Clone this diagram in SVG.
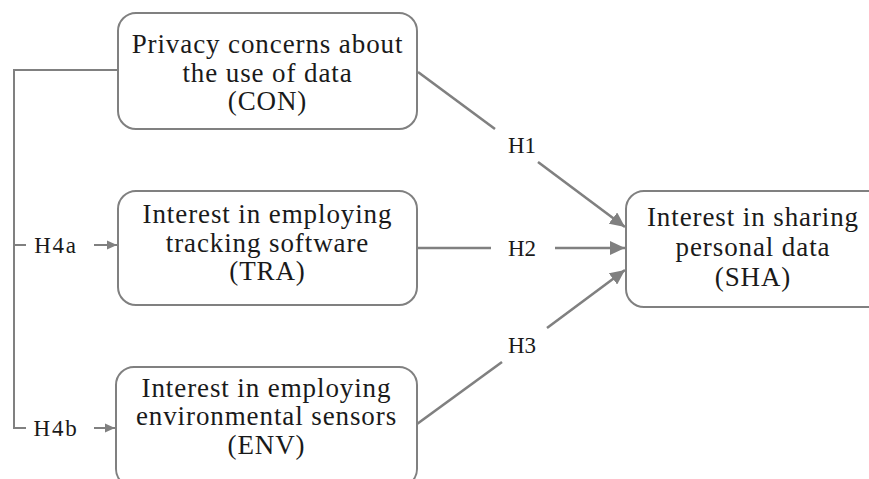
<svg xmlns="http://www.w3.org/2000/svg" width="869" height="479" viewBox="0 0 869 479">
<style>
.box{fill:#fff;stroke:#808080;stroke-width:2}
.t{font-family:"Liberation Serif","Times New Roman",serif;font-size:27px;letter-spacing:0.9px;fill:#1a1a1a;text-anchor:middle}
.l{font-family:"Liberation Serif","Times New Roman",serif;font-size:23px;fill:#1a1a1a;text-anchor:middle}
.w{letter-spacing:1.8px}
.c{fill:none;stroke:#808080;stroke-width:2.6}
.s{fill:none;stroke:#808080;stroke-width:2}
</style>
<defs>
<marker id="big" markerUnits="userSpaceOnUse" markerWidth="16" markerHeight="14" refX="15" refY="7" orient="auto"><path d="M0,0 L15,7 L0,14 Z" fill="#808080"/></marker>
<marker id="small" markerUnits="userSpaceOnUse" markerWidth="11" markerHeight="10" refX="10" refY="5" orient="auto"><path d="M0,0.5 L10,5 L0,9.5 Z" fill="#808080"/></marker>
</defs>
<rect width="869" height="479" fill="#fff"/>
<g id="connectors">
<polyline class="s" points="118,70 14,70 14,428 26,428"/>
<line class="s" x1="14" y1="245" x2="26" y2="245"/>
<line class="s" x1="94" y1="245" x2="117" y2="245" marker-end="url(#small)"/>
<line class="s" x1="94" y1="428" x2="115" y2="428" marker-end="url(#small)"/>
<line class="c" x1="418" y1="72" x2="495" y2="129"/>
<line class="c" x1="538" y1="162" x2="625" y2="227" marker-end="url(#big)"/>
<line class="c" x1="418" y1="248" x2="491" y2="248"/>
<line class="c" x1="555" y1="248" x2="625" y2="248" marker-end="url(#big)"/>
<line class="c" x1="417" y1="424" x2="502" y2="362"/>
<line class="c" x1="547" y1="328" x2="625" y2="270" marker-end="url(#big)"/>
<text class="l" x="522" y="153">H1</text>
<text class="l" x="522" y="256">H2</text>
<text class="l" x="522" y="353">H3</text>
<text class="l w" x="56" y="253">H4a</text>
<text class="l w" x="56" y="436">H4b</text>
</g>
<g id="CON">
<rect class="box" x="118" y="13" width="299" height="116" rx="18"/>
<text class="t" x="267.5" y="53">Privacy concerns about</text>
<text class="t" x="267.5" y="82">the use of data</text>
<text class="t" x="267.5" y="110">(CON)</text>
</g>
<g id="TRA">
<rect class="box" x="118" y="191" width="299" height="114" rx="18"/>
<text class="t" x="267.5" y="223">Interest in employing</text>
<text class="t" x="267.5" y="252">tracking software</text>
<text class="t" x="267.5" y="280">(TRA)</text>
</g>
<g id="ENV">
<rect class="box" x="116" y="367" width="301" height="120" rx="18"/>
<text class="t" x="266.5" y="397">Interest in employing</text>
<text class="t" x="266.5" y="425">environmental sensors</text>
<text class="t" x="266.5" y="454">(ENV)</text>
</g>
<g id="SHA">
<rect class="box" x="626" y="191" width="260" height="116" rx="18"/>
<text class="t" x="753" y="226">Interest in sharing</text>
<text class="t" x="753" y="256">personal data</text>
<text class="t" x="753" y="286">(SHA)</text>
</g>
</svg>
